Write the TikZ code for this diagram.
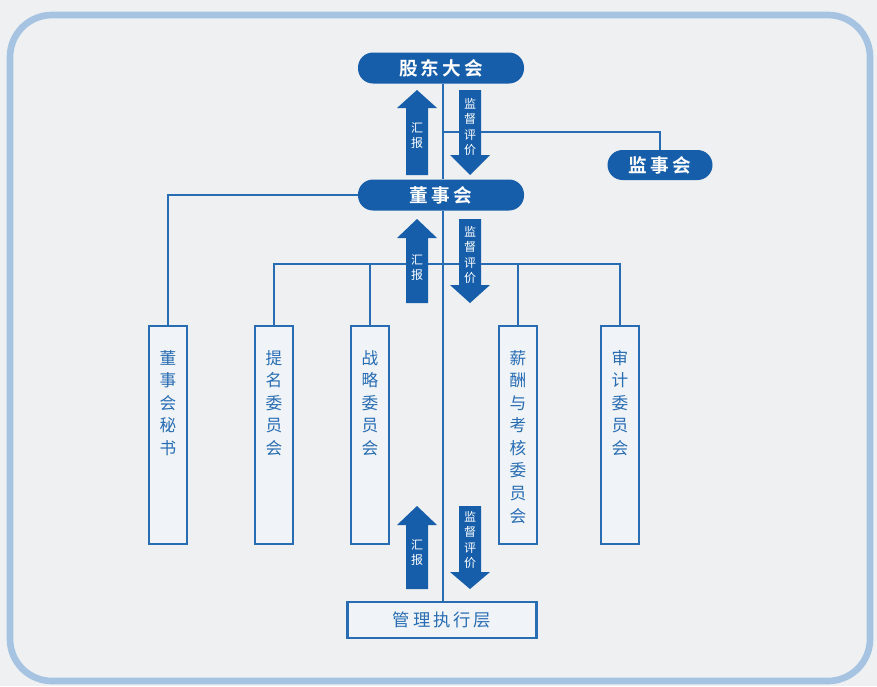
\documentclass[tikz,border=0pt]{standalone}
\usepackage{fontspec}
\newfontfamily\cjk{Noto Sans CJK SC}
\newfontfamily\cjkb{Noto Sans CJK SC Bold}
\definecolor{paper}{RGB}{238,240,242}
\definecolor{frameblue}{RGB}{166,196,226}
\definecolor{dblue}{RGB}{22,94,170}
\definecolor{lblue}{RGB}{40,108,180}
\definecolor{boxfill}{RGB}{240,244,248}
\tikzset{
  pill/.style={rounded corners=15*0.75pt, fill=dblue, minimum width=166*0.75pt, minimum height=31*0.75pt, text=white, font=\cjkb\fontsize{14}{16}\selectfont, inner sep=0pt},
  vbox/.style={draw=lblue, line width=1.6pt, fill=boxfill, minimum width=38*0.75pt, minimum height=218*0.75pt, inner sep=0pt},
  vtext/.style={text=lblue, font=\cjk\fontsize{12.5}{16.9}\selectfont, align=center, inner sep=0pt, anchor=north},
  conn/.style={draw=lblue, line width=1.2pt},
  arrfill/.style={fill=dblue},
  arrtext/.style={text=white, font=\cjk\fontsize{9}{11.3}\selectfont, align=center, inner sep=0pt},
}
\begin{document}
\begin{tikzpicture}[x=0.75pt,y=-0.75pt]
\useasboundingbox (0,0) rectangle (877,686);
\fill[paper] (0,0) rectangle (877,686);
\draw[frameblue, line width=5pt, rounded corners=42*0.75pt] (10,15) rectangle (870,681);

% main nodes
\node[pill] (gd) at (441,68) {股\,东\,大\,会};
\node[pill] (ds) at (441,195) {董\,事\,会};
\node[pill, minimum width=105*0.75pt, minimum height=30*0.75pt] (js) at (660,165) {监\,事\,会};
\node[draw=lblue, line width=1.6pt, fill=boxfill, minimum width=189*0.75pt, minimum height=36*0.75pt, text=lblue, font=\cjk\fontsize{13}{15}\selectfont] (gl) at (442,620) {管\,理\,执\,行\,层};

% vertical boxes
\node[vbox] (b1) at (168,435) {};
\node[vbox] (b2) at (274,435) {};
\node[vbox] (b3) at (370,435) {};
\node[vbox] (b4) at (518,435) {};
\node[vbox] (b5) at (620,435) {};
\node[vtext] (t1) at (168,350) {董\\事\\会\\秘\\书};
\node[vtext] (t2) at (274,350) {提\\名\\委\\员\\会};
\node[vtext] (t3) at (370,350) {战\\略\\委\\员\\会};
\node[vtext] (t4) at (518,350) {薪\\酬\\与\\考\\核\\委\\员\\会};
\node[vtext] (t5) at (620,350) {审\\计\\委\\员\\会};

% connectors
\coordinate (jsbr) at (443,132);
\coordinate (bus) at (443,264);
\draw[conn] (gd.south -| 443,0) -- (ds.north -| 443,0);
\draw[conn] (ds.south -| 443,0) -- (gl.north -| 443,0);
\draw[conn] (jsbr) -| (js.north);
\draw[conn] (ds.west) -| (b1.north);
\draw[conn] (b2.north) |- (bus) -| (b5.north);
\draw[conn] (b3.north) -- (b3.north |- bus);
\draw[conn] (b4.north) -- (b4.north |- bus);

% arrow pairs
\foreach \ytop/\ybot/\hu/\hd/\name in {90/175/108/155/a, 219/303/238/285/b, 506/589/525/572/c}{
  \fill[arrfill] (417,\ytop) -- (437,\hu) -- (428,\hu) -- (428,\ybot) -- (406,\ybot) -- (406,\hu) -- (397,\hu) -- cycle;
  \fill[arrfill] (459,\ytop) -- (481,\ytop) -- (481,\hd) -- (490,\hd) -- (470,\ybot) -- (450,\hd) -- (459,\hd) -- cycle;
}
\node[arrtext] (ua) at (417,136) {汇\\报};
\node[arrtext] (da) at (470,127) {监\\督\\评\\价};
\node[arrtext] (ub) at (417,268) {汇\\报};
\node[arrtext] (db) at (470,255) {监\\督\\评\\价};
\node[arrtext] (uc) at (417,553) {汇\\报};
\node[arrtext] (dc) at (470,540) {监\\督\\评\\价};
\end{tikzpicture}
\end{document}
